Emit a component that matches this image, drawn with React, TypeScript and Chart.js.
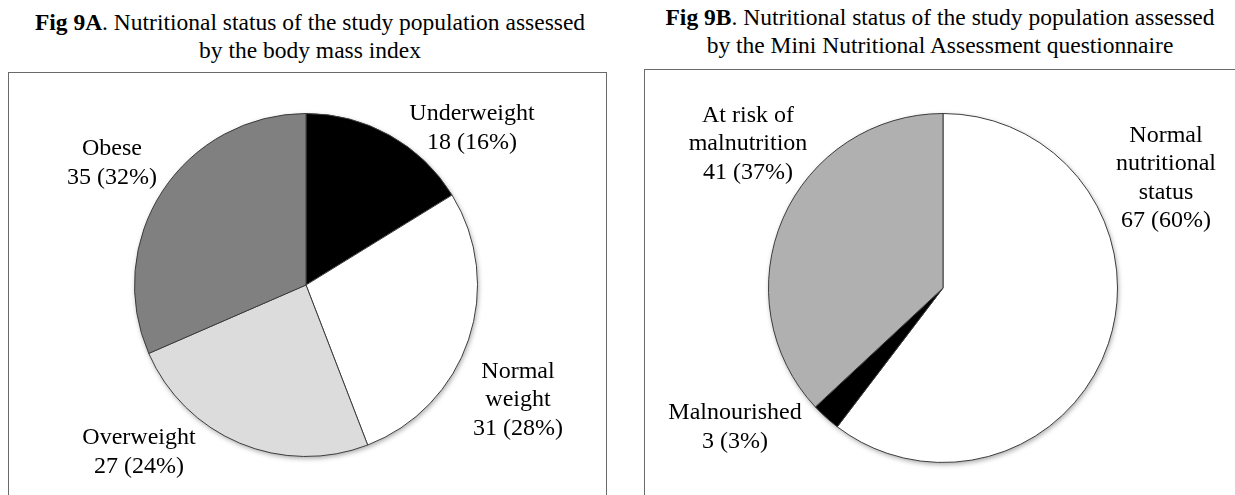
import React, { useEffect, useRef } from "react";
import { Chart, registerables } from "chart.js";

Chart.register(...registerables);

// ---- Data ----
const bmiCategories = ["Underweight", "Normal weight", "Overweight", "Obese"];
const bmiLabelLines = [["Underweight"], ["Normal", "weight"], ["Overweight"], ["Obese"]];
const bmiValues = [18, 31, 27, 35];
const bmiPercents = [16, 28, 24, 32];
const bmiColors = ["#000000", "#ffffff", "#dcdcdc", "#808080"];

const mnaCategories = ["Normal nutritional status", "Malnourished", "At risk of malnutrition"];
const mnaLabelLines = [["Normal", "nutritional", "status"], ["Malnourished"], ["At risk of", "malnutrition"]];
const mnaValues = [67, 3, 41];
const mnaPercents = [60, 3, 37];
const mnaColors = ["#ffffff", "#000000", "#b0b0b0"];

// label offsets from pie centre (layout)
const bmiLabelOffsets = [[166, -157], [212, 115], [-167, 167], [-194, -122]];
const mnaLabelOffsets = [[223, -110], [-208, 139], [-195, -144]];

const FONT = '"Liberation Serif", "Times New Roman", serif';

const pieLabelPlugin = {
  id: "pieLabels",
  beforeDatasetsDraw(chart: any) {
    const meta = chart.getDatasetMeta(0);
    const arc = meta.data[0];
    if (!arc) return;
    const { x, y, outerRadius } = arc.getProps(["x", "y", "outerRadius"], true);
    const ctx = chart.ctx;
    ctx.save();
    ctx.shadowColor = "rgba(0,0,0,0.35)";
    ctx.shadowBlur = 5;
    ctx.shadowOffsetX = 1;
    ctx.shadowOffsetY = 2;
    ctx.fillStyle = "#ffffff";
    ctx.beginPath();
    ctx.arc(x, y, outerRadius, 0, Math.PI * 2);
    ctx.fill();
    ctx.restore();
  },
  afterDatasetsDraw(chart: any, _args: any, opts: any) {
    const meta = chart.getDatasetMeta(0);
    const arc = meta.data[0];
    if (!arc) return;
    const { x, y } = arc.getProps(["x", "y"], true);
    const ctx = chart.ctx;
    ctx.save();
    ctx.fillStyle = "#000";
    ctx.font = `24px ${FONT}`;
    ctx.textAlign = "center";
    ctx.textBaseline = "middle";
    const lh = 28.5;
    opts.lines.forEach((lines: string[], i: number) => {
      const all = [...lines, `${opts.values[i]} (${opts.percents[i]}%)`];
      const [dx, dy] = opts.offsets[i];
      const startY = y + dy - ((all.length - 1) * lh) / 2;
      all.forEach((t, j) => ctx.fillText(t, x + dx, startY + j * lh));
    });
    ctx.restore();
  },
};

function PieChart(props: {
  categories: string[];
  values: number[];
  percents: number[];
  colors: string[];
  lines: string[][];
  offsets: number[][];
  padding: { left: number; right: number; top: number; bottom: number };
  width: number;
  height: number;
}) {
  const ref = useRef<HTMLCanvasElement>(null);
  useEffect(() => {
    if (!ref.current) return;
    const chart = new Chart(ref.current, {
      type: "pie",
      data: {
        labels: props.categories,
        datasets: [
          {
            data: props.values,
            backgroundColor: props.colors,
            borderColor: "#3c3c3c",
            borderWidth: 1,
          },
        ],
      },
      options: {
        responsive: false,
        animation: false,
        layout: { padding: props.padding },
        plugins: {
          legend: { display: false },
          tooltip: { enabled: false },
          pieLabels: {
            lines: props.lines,
            values: props.values,
            percents: props.percents,
            offsets: props.offsets,
          },
        } as any,
      },
      plugins: [pieLabelPlugin],
    });
    return () => chart.destroy();
  }, []);
  return (
    <canvas
      ref={ref}
      width={props.width}
      height={props.height}
      style={{ width: props.width, height: props.height, display: "block" }}
    />
  );
}

const titleStyle: React.CSSProperties = {
  position: "absolute",
  textAlign: "center",
  fontFamily: FONT,
  fontSize: 23.5,
  lineHeight: "28px",
  color: "#000",
  whiteSpace: "nowrap",
};

export default function App() {
  return (
    <div
      style={{
        position: "absolute",
        left: 0,
        top: 0,
        width: 1235,
        height: 495,
        overflow: "hidden",
        background: "#fff",
      }}
    >
      <div style={{ ...titleStyle, left: 0, width: 620, top: 8 }}>
        <b>Fig 9A</b>. Nutritional status of the study population assessed
        <br />
        by the body mass index
      </div>
      <div
        style={{
          position: "absolute",
          left: 8,
          top: 72,
          width: 597,
          height: 440,
          border: "1px solid #6a6a6a",
        }}
      />
      <div style={{ position: "absolute", left: 9, top: 73 }}>
        <PieChart
          categories={bmiCategories}
          values={bmiValues}
          percents={bmiPercents}
          colors={bmiColors}
          lines={bmiLabelLines}
          offsets={bmiLabelOffsets}
          padding={{ left: 125, right: 128, top: 40, bottom: 38 }}
          width={597}
          height={422}
        />
      </div>

      <div style={{ ...titleStyle, left: 645, width: 590, top: 3 }}>
        <b>Fig 9B</b>. Nutritional status of the study population assessed
        <br />
        by the Mini Nutritional Assessment questionnaire
      </div>
      <div
        style={{
          position: "absolute",
          left: 644,
          top: 69,
          width: 620,
          height: 440,
          border: "1px solid #6a6a6a",
        }}
      />
      <div style={{ position: "absolute", left: 645, top: 70 }}>
        <PieChart
          categories={mnaCategories}
          values={mnaValues}
          percents={mnaPercents}
          colors={mnaColors}
          lines={mnaLabelLines}
          offsets={mnaLabelOffsets}
          padding={{ left: 123, right: 117, top: 43, bottom: 32 }}
          width={590}
          height={425}
        />
      </div>
    </div>
  );
}
